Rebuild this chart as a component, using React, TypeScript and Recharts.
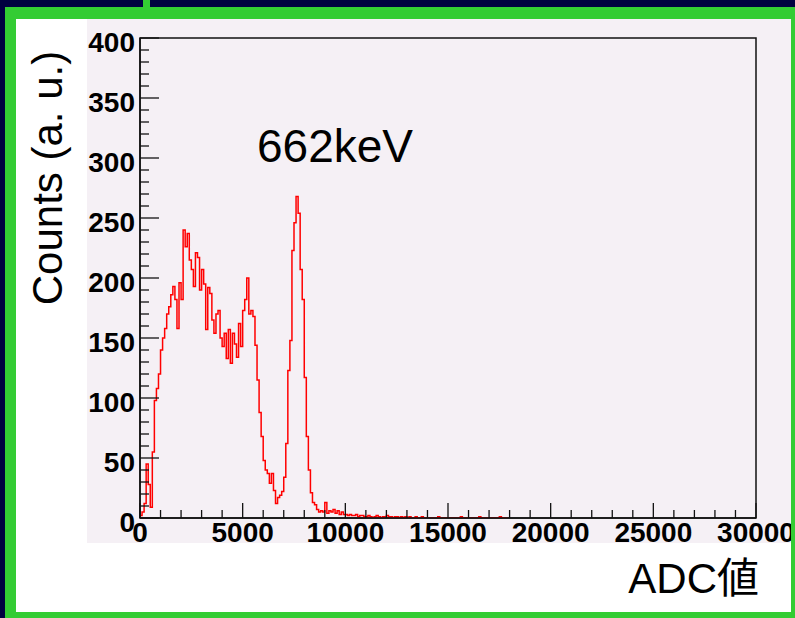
import React from 'react';
import { ComposedChart, Line, XAxis, YAxis, ReferenceArea } from 'recharts';

const BIN_WIDTH = 100; // ADC channels per bin

// counts per bin, bins start at 0 ADC
const counts = [
  2, 5, 12, 45, 28, 9, 55, 98, 108, 120,
  140, 150, 158, 170, 176, 186, 193, 182, 158, 196,
  182, 240, 226, 237, 215, 207, 193, 221, 217, 190,
  207, 195, 157, 192, 187, 165, 154, 170, 173, 150,
  143, 154, 133, 157, 129, 154, 145, 134, 162, 143,
  173, 182, 200, 170, 173, 168, 144, 115, 88, 68,
  48, 40, 37, 29, 37, 23, 12, 17, 19, 22,
  34, 62, 123, 148, 223, 246, 268, 254, 207, 182,
  117, 68, 40, 21, 13, 11, 7, 5, 6, 5,
  13, 4, 6, 5, 7, 4, 6, 3, 5, 3,
  3, 2, 3, 2, 2, 3, 1, 2, 2, 1,
  1, 2, 1, 0, 1, 2, 1, 0, 1, 1,
  2, 1, 1, 0, 1, 1, 0, 1, 0, 1,
  0, 1, 0, 0, 1, 0, 0, 1, 0, 0,
  0, 0, 0, 0, 0, 1, 0, 0, 0, 0,
  0, 0, 0, 0, 0, 0, 1, 0, 0, 0,
  0, 0, 0, 0, 0, 1, 0, 0, 0, 0,
  0, 0, 0, 0, 0, 1, 0, 0, 0, 0,
];

const xMajor = [0, 5000, 10000, 15000, 20000, 25000, 30000];
const yMajor = [0, 50, 100, 150, 200, 250, 300, 350, 400];
const xTicks = Array.from({ length: 31 }, (_, i) => i * 1000);
const yTicks = Array.from({ length: 41 }, (_, i) => i * 10);

const data = counts.map((c, i) => ({ adc: i * BIN_WIDTH, counts: c }));

const FONT = '"Liberation Sans", Arial, "Noto Sans CJK JP", sans-serif';
const AXIS = '#111';

const YTick = (props: any) => {
  const { x, y, payload } = props;
  const major = yMajor.includes(payload.value);
  return (
    <g>
      <line x1={x} x2={x + (major ? 19 : 9)} y1={y} y2={y} stroke={AXIS} strokeWidth={1.3} />
      {major && (
        <text x={x - 5} y={y + 4} textAnchor="end" dominantBaseline="central"
          fontFamily={FONT} fontWeight="bold" fontSize={28} fill="#000">
          {payload.value}
        </text>
      )}
    </g>
  );
};

const XTick = (props: any) => {
  const { x, y, payload } = props;
  const major = xMajor.includes(payload.value);
  return (
    <g>
      <line x1={x} x2={x} y1={y} y2={y - (major ? 15 : 8)} stroke={AXIS} strokeWidth={1.3} />
      {major && (
        <text x={x} y={y + 14} textAnchor="middle" dominantBaseline="central"
          fontFamily={FONT} fontWeight="bold" fontSize={28} fill="#000">
          {payload.value}
        </text>
      )}
    </g>
  );
};

export default function App() {
  return (
    <div style={{ position: 'absolute', left: 0, top: 0, width: 795, height: 618, background: '#000040', overflow: 'hidden' }}>
      {/* white sheet and pink pad */}
      <div style={{ position: 'absolute', left: 16, top: 19, width: 775, height: 593, background: '#fff' }} />
      <div style={{ position: 'absolute', left: 87, top: 19, width: 704, height: 524, background: '#f5f0f5' }} />
      <div style={{ position: 'absolute', left: 143, top: 0, width: 7, height: 7, background: '#33cc33' }} />

      <div style={{ position: 'absolute', left: 0, top: 0 }}>
        <ComposedChart width={795} height={618} data={data}
          margin={{ top: 38, right: 39, bottom: 60, left: 80 }}>
          <XAxis dataKey="adc" type="number" domain={[0, 30000]} ticks={xTicks} interval={0}
            height={40} tickSize={0} tickMargin={0} tickLine={false}
            axisLine={{ stroke: AXIS, strokeWidth: 1.5 }} tick={<XTick />} allowDataOverflow />
          <YAxis type="number" domain={[0, 400]} ticks={yTicks} interval={0}
            width={60} tickSize={0} tickMargin={0} tickLine={false}
            axisLine={{ stroke: AXIS, strokeWidth: 1.5 }} tick={<YTick />} allowDataOverflow />
          <Line type="stepAfter" dataKey="counts" stroke="#ff0000" strokeWidth={1.5}
            dot={false} activeDot={false} isAnimationActive={false} />
          <ReferenceArea x1={0} x2={30000} y1={0} y2={400} fill="none" stroke={AXIS} strokeWidth={1.5} />
        </ComposedChart>
      </div>

      {/* green frame */}
      <div style={{
        position: 'absolute', left: 5, top: 7, width: 790, height: 611, boxSizing: 'border-box',
        borderStyle: 'solid', borderColor: '#33cc33',
        borderLeftWidth: 11, borderTopWidth: 12, borderRightWidth: 4, borderBottomWidth: 6,
      }} />

      <svg width={795} height={618} style={{ position: 'absolute', left: 0, top: 0 }}>
        <text x={47} y={178} transform="rotate(-90 47 178)" textAnchor="middle" dominantBaseline="central"
          fontFamily={FONT} fontSize={42} fill="#000">Counts (a. u.)</text>
        <text x={257} y={162} fontFamily={FONT} fontSize={46} fill="#000">662keV</text>
        <text x={759} y={593} textAnchor="end" fontFamily={FONT} fontSize={42} fill="#000">ADC値</text>
      </svg>
    </div>
  );
}
